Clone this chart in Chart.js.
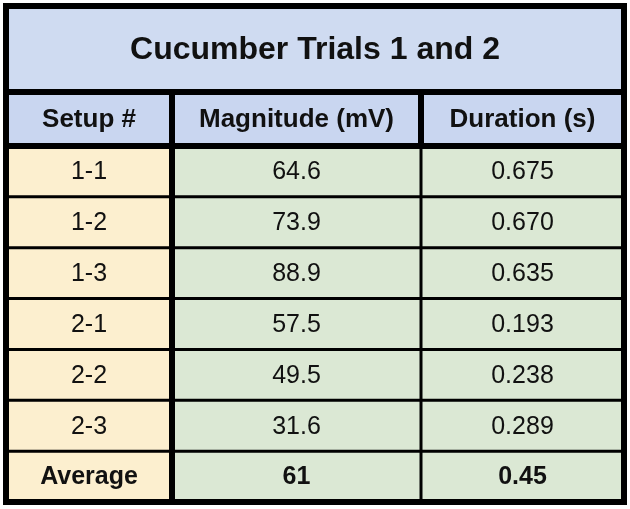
<!DOCTYPE html>
<html>
<head>
<meta charset="utf-8">
<title>Cucumber Trials 1 and 2</title>
<script src="https://cdn.jsdelivr.net/npm/chart.js@4/dist/chart.umd.min.js"></script>
<style>
  html, body { margin: 0; padding: 0; background: #ffffff; }
  #wrap { position: relative; width: 630px; height: 509px; }
</style>
</head>
<body>
<div id="wrap"><canvas id="tableChart"></canvas></div>
<script>
/* ---- table data ---- */
const tableTitle = 'Cucumber Trials 1 and 2';
const headers = ['Setup #', 'Magnitude (mV)', 'Duration (s)'];
const setups = ['1-1', '1-2', '1-3', '2-1', '2-2', '2-3', 'Average'];
const magnitudes = [64.6, 73.9, 88.9, 57.5, 49.5, 31.6, 61];
const durations = [0.675, 0.670, 0.635, 0.193, 0.238, 0.289, 0.45];

// column boundaries along the x scale (table width units)
const colEdges = [0, 166, 415, 618];

const FONT = '"Liberation Sans", Arial, Helvetica, sans-serif';
const colFills = ['#fcefcf', '#dbe8d4', '#dbe8d4'];
const headerFill = '#c9d6f0';
const titleFill = '#cfdbf1';
const ink = '#111111';

const TOP = 6;          // centre of the outer top border
const TITLE_LINE = 92;  // centre of the title / header divider
const lastRow = setups.length - 1;

// text shown in a body cell
function cellText(col, i) {
  const isAvg = i === lastRow;
  if (col === 0) return setups[i];
  if (col === 1) return isAvg ? String(magnitudes[i]) : magnitudes[i].toFixed(1);
  return isAvg ? String(durations[i]) : durations[i].toFixed(3);
}

/* ---- plugins ---- */
const tableFrame = {
  id: 'tableFrame',
  beforeDraw(chart) {
    const { ctx, chartArea } = chart;
    const x = chart.scales.x;
    const mid = (chartArea.left + chartArea.right) / 2;
    ctx.save();
    ctx.fillStyle = '#ffffff';
    ctx.fillRect(0, 0, chart.width, chart.height);

    // title band
    ctx.fillStyle = titleFill;
    ctx.fillRect(chartArea.left, TOP, chartArea.right - chartArea.left, TITLE_LINE - TOP);
    ctx.fillStyle = ink;
    ctx.font = 'bold 32px ' + FONT;
    ctx.textAlign = 'center';
    ctx.textBaseline = 'middle';
    ctx.fillText(tableTitle, mid, (TOP + TITLE_LINE) / 2 + 1);

    // header band
    ctx.fillStyle = headerFill;
    ctx.fillRect(chartArea.left, TITLE_LINE, chartArea.right - chartArea.left, chartArea.top - TITLE_LINE);
    ctx.fillStyle = ink;
    ctx.font = 'bold 26px ' + FONT;
    headers.forEach((h, col) => {
      const cx = (x.getPixelForValue(colEdges[col]) + x.getPixelForValue(colEdges[col + 1])) / 2;
      ctx.fillText(h, cx, (TITLE_LINE + chartArea.top) / 2 + 1);
    });
    ctx.restore();
  },
  afterDatasetsDraw(chart) {
    const { ctx, chartArea } = chart;
    const x = chart.scales.x;
    const y = chart.scales.y;
    const rowEdge = i => y.getPixelForValue(i - 0.5);
    const bottom = rowEdge(setups.length);
    ctx.save();
    ctx.strokeStyle = '#000000';

    // body row lines
    ctx.lineWidth = 3;
    ctx.beginPath();
    for (let i = 1; i < setups.length; i++) {
      ctx.moveTo(chartArea.left, rowEdge(i));
      ctx.lineTo(chartArea.right, rowEdge(i));
    }
    ctx.stroke();

    // title / header and header / body dividers
    ctx.lineWidth = 6;
    ctx.beginPath();
    ctx.moveTo(chartArea.left, TITLE_LINE);
    ctx.lineTo(chartArea.right, TITLE_LINE);
    ctx.moveTo(chartArea.left, rowEdge(0));
    ctx.lineTo(chartArea.right, rowEdge(0));
    ctx.stroke();

    // column lines
    const c1 = x.getPixelForValue(colEdges[1]);
    const c2 = x.getPixelForValue(colEdges[2]);
    ctx.lineWidth = 6;
    ctx.beginPath();
    ctx.moveTo(c1, TITLE_LINE);
    ctx.lineTo(c1, bottom);
    ctx.moveTo(c2, TITLE_LINE);
    ctx.lineTo(c2, rowEdge(0));
    ctx.stroke();
    ctx.lineWidth = 3;
    ctx.beginPath();
    ctx.moveTo(c2, rowEdge(0));
    ctx.lineTo(c2, bottom);
    ctx.stroke();

    // outer border
    ctx.lineWidth = 6;
    const left = x.getPixelForValue(colEdges[0]);
    const right = x.getPixelForValue(colEdges[3]);
    ctx.strokeRect(left, TOP, right - left, bottom - TOP);
    ctx.restore();
  }
};

const tableText = {
  id: 'tableText',
  afterDatasetsDraw(chart) {
    const { ctx } = chart;
    ctx.save();
    ctx.fillStyle = ink;
    ctx.textAlign = 'center';
    ctx.textBaseline = 'middle';
    chart.data.datasets.forEach((ds, col) => {
      chart.getDatasetMeta(col).data.forEach((bar, row) => {
        ctx.font = (row === lastRow ? 'bold ' : '') + '25px ' + FONT;
        const cx = (bar.x + bar.base) / 2;
        ctx.fillText(cellText(col, row), cx, bar.y + 1);
      });
    });
    ctx.restore();
  }
};

/* ---- chart ---- */
const datasets = headers.map((h, col) => ({
  label: h,
  data: setups.map(() => [colEdges[col], colEdges[col + 1]]),
  backgroundColor: colFills[col],
  borderWidth: 0,
  grouped: false,
  barPercentage: 1,
  categoryPercentage: 1
}));

new Chart(document.getElementById('tableChart'), {
  type: 'bar',
  data: { labels: setups, datasets },
  options: {
    indexAxis: 'y',
    responsive: true,
    maintainAspectRatio: false,
    animation: false,
    layout: { padding: { top: 146, left: 6, right: 6, bottom: 7 } },
    plugins: {
      legend: { display: false },
      tooltip: { enabled: false },
      title: { display: false }
    },
    scales: {
      x: { type: 'linear', min: colEdges[0], max: colEdges[3], display: false },
      y: { display: false }
    }
  },
  plugins: [tableFrame, tableText]
});
</script>
</body>
</html>
